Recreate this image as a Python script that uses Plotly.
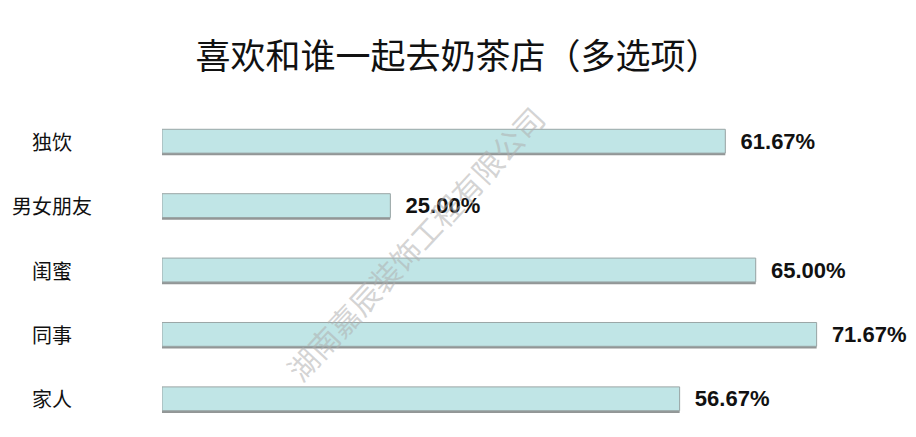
import plotly.graph_objects as go

categories = ["独饮", "男女朋友", "闺蜜", "同事", "家人"]
values = [61.67, 25.00, 65.00, 71.67, 56.67]
value_labels = ["61.67%", "25.00%", "65.00%", "71.67%", "56.67%"]
title_text = "喜欢和谁一起去奶茶店（多选项）"
watermark_text = "湖南嘉辰装饰工程有限公司"

# page body has an 8px margin; work in reference coords minus 8
OFF = 8
W, H = 916 - OFF, 437 - OFF
ML, MR, MT, MB = 162 - OFF, 5, 109 - OFF, 6
plot_w = W - ML - MR
plot_h = H - MT - MB

BW = 0.37
fig = go.Figure()
# soft shadow under each bar
fig.add_trace(go.Bar(
    y=categories, x=values, orientation="h",
    marker=dict(color="rgba(110,115,115,0.75)", line=dict(width=0)),
    width=BW, offset=-BW / 2 + 0.035, hoverinfo="skip", cliponaxis=False,
))
fig.add_trace(go.Bar(
    y=categories, x=values, orientation="h",
    marker=dict(color="#c0e5e6", line=dict(color="#9aa6a6", width=1)),
    text=value_labels, textposition="outside",
    textfont=dict(family="Liberation Sans, Arial", size=22, color="#111111"),
    texttemplate="\u00a0\u00a0<b>%{text}</b>",
    constraintext="none", cliponaxis=False,
    width=BW, offset=-BW / 2, hoverinfo="skip",
))

# category labels centered left of bars
label_x = (52 - OFF - ML) / plot_w
for c in categories:
    fig.add_annotation(x=label_x, xref="paper", y=c, yref="y", text=c,
                       showarrow=False, xanchor="center", yanchor="middle",
                       font=dict(family="Noto Sans CJK SC", size=20, color="#111111"))

# watermark
fig.add_annotation(x=(415 - OFF - ML) / plot_w, xref="paper",
                   y=(H - MB - (243 - OFF)) / plot_h, yref="paper",
                   text=watermark_text, showarrow=False, textangle=-47,
                   font=dict(family="Noto Sans CJK SC", size=30, color="rgba(175,175,175,0.55)"))

fig.update_layout(
    width=W, height=H,
    margin=dict(l=ML, r=MR, t=MT, b=MB),
    paper_bgcolor="white", plot_bgcolor="white",
    barmode="overlay",
    title=dict(text=title_text, x=(458 - OFF) / W, xref="container", xanchor="center",
               y=1 - (57 - OFF) / H, yref="container", yanchor="middle",
               font=dict(family="Noto Sans CJK SC", size=35, color="#111111")),
    xaxis=dict(range=[0, 82], visible=False, fixedrange=True),
    yaxis=dict(categoryorder="array", categoryarray=categories, autorange="reversed",
               showticklabels=False, showgrid=False, zeroline=False, showline=False,
               ticks=""),
    showlegend=False,
)

fig.write_html("out.html")
